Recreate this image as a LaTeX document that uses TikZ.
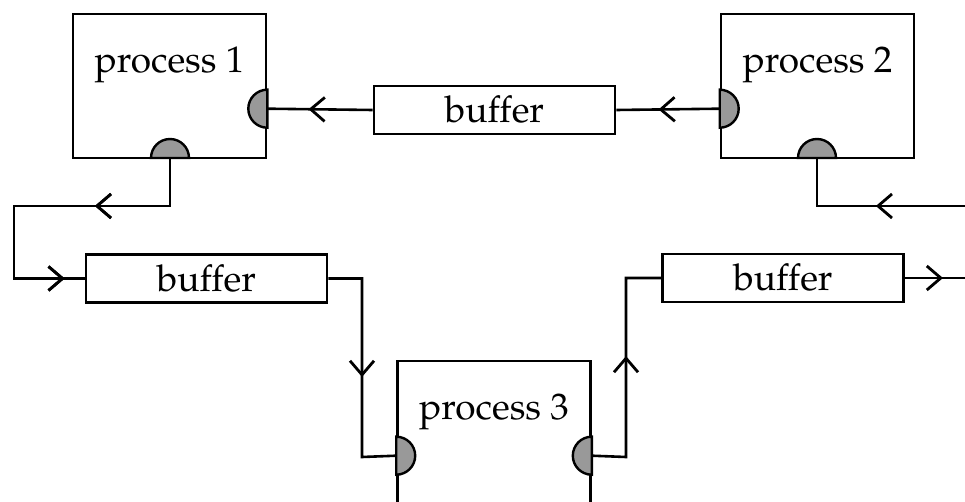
\documentclass[tikz,border=0pt]{standalone}
\usepackage[T1]{fontenc}
\usepackage{mathpazo}
\usetikzlibrary{decorations.markings,calc}

\tikzset{
  wire/.style={line width=2.6pt, line join=miter},
  procbox/.style={draw, line width=2.6pt, fill=white, minimum width=193pt, minimum height=144pt, inner sep=0pt},
  bufbox/.style={draw, line width=2.6pt, fill=white, minimum width=241pt, minimum height=48pt, inner sep=0pt,
    font=\fontsize{37}{41}\selectfont},
  proclabel/.style={anchor=base, inner sep=0pt, font=\fontsize{37}{41}\selectfont},
  portfill/.style={fill=black!40, draw=black, line width=2.4pt},
  % open chevron placed along a wire, tip at the given distance
  barbs/.style={postaction={decorate}, decoration={markings,
    mark=at position #1 with {\draw[line width=2.8pt, line join=miter]
      (-14pt,12pt) -- (0pt,0pt) -- (-14pt,-12pt);}}},
}

% half-disc port glyphs: inward-facing, on a left/right or bottom edge
\newcommand{\portW}[1]{\draw[portfill] ($(#1)+(0,19pt)$) arc[start angle=90, end angle=270, radius=19pt] -- cycle;}
\newcommand{\portE}[1]{\draw[portfill] ($(#1)+(0,19pt)$) arc[start angle=90, end angle=-90, radius=19pt] -- cycle;}
\newcommand{\portN}[1]{\draw[portfill] ($(#1)+(19pt,0)$) arc[start angle=0, end angle=180, radius=19pt] -- cycle;}

\begin{document}
\begin{tikzpicture}[x=1pt, y=-1pt]
\useasboundingbox (0,0) rectangle (965,502);
\clip (0,0) rectangle (965,502);

% processes
\node[procbox] (p1) at (169.5,86) {};
\node[procbox] (p2) at (817.5,86) {};
\node[procbox] (p3) at (494,433) {};
\node[proclabel] (p1t) at ($(p1.north)+(0,60)$) {process 1};
\node[proclabel] (p2t) at ($(p2.north)+(0,60)$) {process 2};
\node[proclabel] (p3t) at ($(p3.north)+(0,60)$) {process 3};

% port positions
\coordinate (p1e) at ($(p1.north east)+(0,96)$);
\coordinate (p1s) at (170,158);
\coordinate (p2w) at ($(p2.north west)+(0,96)$);
\coordinate (p2s) at (817,158);
\coordinate (p3w) at ($(p3.north west)+(0,96)$);
\coordinate (p3e) at ($(p3.north east)+(0,96)$);

% buffers
\node[bufbox] (b1) at (494.5,110) {buffer};
\node[bufbox] (b2) at (206.5,278.5) {buffer};
\node[bufbox] (b3) at (783,278) {buffer};

% loose ends at the picture border
\coordinate (outE) at (965,278);
\coordinate (inE) at (965,206);

% connectors
\draw[wire, barbs=59pt] (p2w) -- (b1.east);
\draw[wire, barbs=62pt] (b1.west) -- (p1e);
\draw[wire, barbs=121pt, barbs=325pt] (p1s) -- (170,206) -- (14,206) -- (14,278.5) -- (b2.west);
\draw[wire, barbs=130pt] (b2.east) -- (362,278.5) -- (362,457) -- (p3w);
\draw[wire, barbs=133pt] (p3e) -- (626,457) -- (626,278) -- (b3.west);
\draw[wire, barbs=36pt] (b3.east) -- (outE);
\draw[wire, barbs=87pt] (inE) -- (817,206) -- (p2s);

% ports
\portW{p1e}
\portN{p1s}
\portE{p2w}
\portN{p2s}
\portE{p3w}
\portW{p3e}
\end{tikzpicture}
\end{document}
